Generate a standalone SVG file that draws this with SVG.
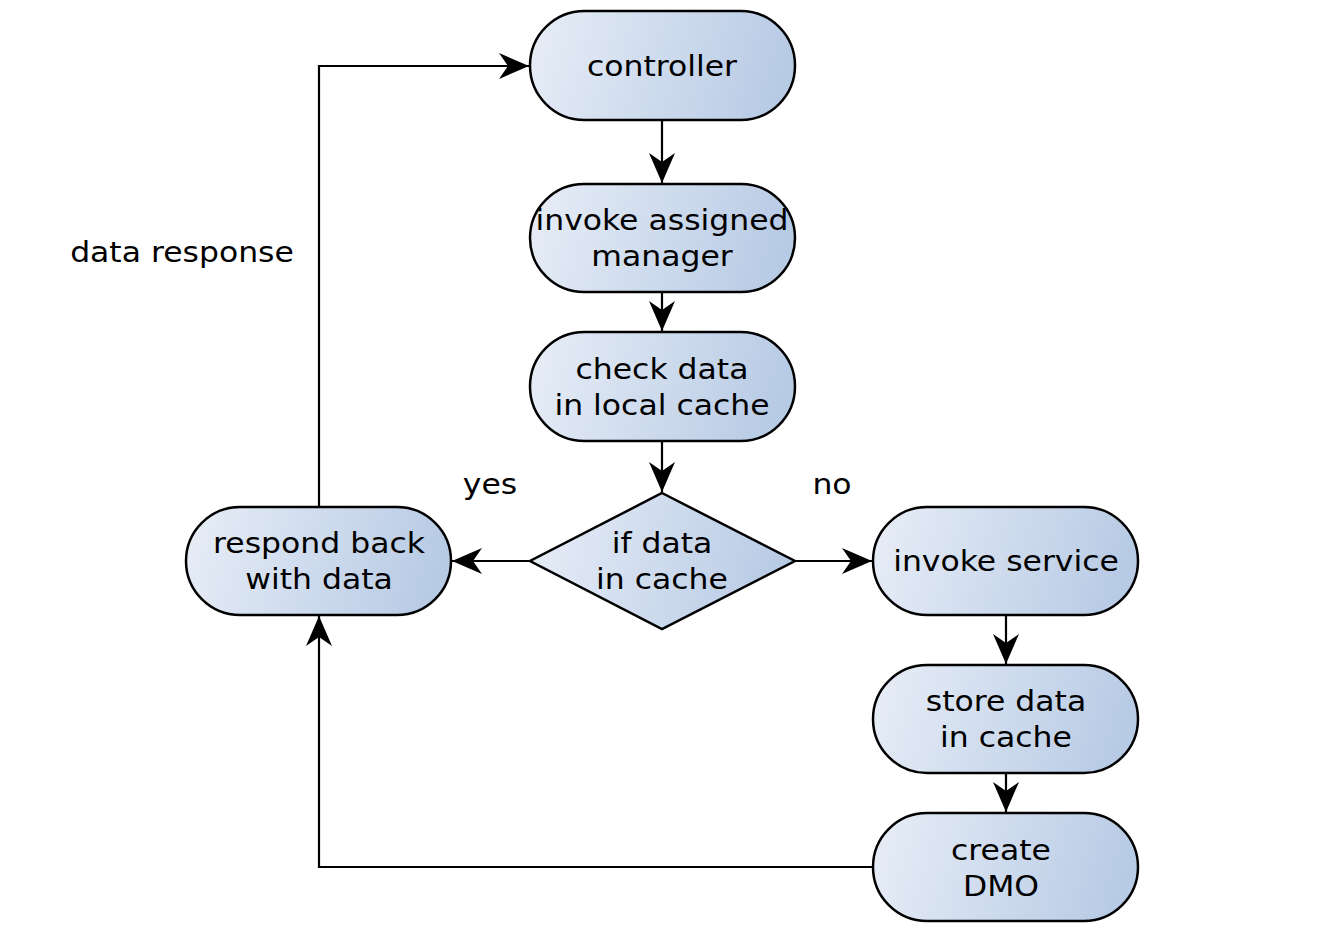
<svg xmlns="http://www.w3.org/2000/svg" width="1325" height="950" viewBox="0 0 1325 950">
<style>
.node{fill:url(#g);stroke:#000;stroke-width:2.5}
.t{font-family:"DejaVu Sans",sans-serif;font-size:29px;fill:#000;text-anchor:middle}
.c{fill:none;stroke:#000;stroke-width:2.2}
</style>
<defs>
<linearGradient id="g" x1="0" y1="0" x2="1" y2="0.12">
<stop offset="0" stop-color="#e8eef7"/>
<stop offset="1" stop-color="#b8cbe5"/>
</linearGradient>
<marker id="a" markerUnits="userSpaceOnUse" markerWidth="34" markerHeight="30" viewBox="-32 -15 34 30" refX="0" refY="0" orient="auto">
<path d="M0,0 L-30,-13 L-21,0 L-30,13 Z" fill="#000"/>
</marker>
</defs>
<rect width="1325" height="950" fill="#fff"/>
<g id="connectors">
<path class="c" d="M662,120 V183" marker-end="url(#a)"/>
<path class="c" d="M662,292 V331" marker-end="url(#a)"/>
<path class="c" d="M662,441 V492" marker-end="url(#a)"/>
<path class="c" d="M530,561 H452" marker-end="url(#a)"/>
<path class="c" d="M795,561 H872" marker-end="url(#a)"/>
<path class="c" d="M1006,615 V664" marker-end="url(#a)"/>
<path class="c" d="M1006,773 V812" marker-end="url(#a)"/>
<path class="c" d="M873,867 H319 V616" marker-end="url(#a)"/>
<path class="c" d="M319,507 V66 H529" marker-end="url(#a)"/>
<text class="t" transform="translate(490 0) scale(1.085 1)" y="494">yes</text>
<text class="t" transform="translate(832 0) scale(1.085 1)" y="494">no</text>
<text class="t" transform="translate(182 0) scale(1.085 1)" y="262">data response</text>
</g>
<g id="controller">
<rect class="node" x="530" y="11" width="265" height="109" rx="54.5"/>
<text class="t" transform="translate(662 0) scale(1.085 1)" y="76">controller</text>
</g>
<g id="invoke-manager">
<rect class="node" x="530" y="184" width="265" height="108" rx="54"/>
<text class="t" transform="translate(662 0) scale(1.085 1)" y="230">invoke assigned</text>
<text class="t" transform="translate(662 0) scale(1.085 1)" y="266">manager</text>
</g>
<g id="check-cache">
<rect class="node" x="530" y="332" width="265" height="109" rx="54.5"/>
<text class="t" transform="translate(662 0) scale(1.085 1)" y="379">check data</text>
<text class="t" transform="translate(662 0) scale(1.085 1)" y="415">in local cache</text>
</g>
<g id="if-cache">
<polygon class="node" points="662,493 795,561 662,629 530,561"/>
<text class="t" transform="translate(662 0) scale(1.085 1)" y="553">if data</text>
<text class="t" transform="translate(662 0) scale(1.085 1)" y="589">in cache</text>
</g>
<g id="respond">
<rect class="node" x="186" y="507" width="265" height="108" rx="54"/>
<text class="t" transform="translate(319 0) scale(1.085 1)" y="553">respond back</text>
<text class="t" transform="translate(319 0) scale(1.085 1)" y="589">with data</text>
</g>
<g id="invoke-service">
<rect class="node" x="873" y="507" width="265" height="108" rx="54"/>
<text class="t" transform="translate(1006 0) scale(1.085 1)" y="571">invoke service</text>
</g>
<g id="store-cache">
<rect class="node" x="873" y="665" width="265" height="108" rx="54"/>
<text class="t" transform="translate(1006 0) scale(1.085 1)" y="711">store data</text>
<text class="t" transform="translate(1006 0) scale(1.085 1)" y="747">in cache</text>
</g>
<g id="create-dmo">
<rect class="node" x="873" y="813" width="265" height="108" rx="54"/>
<text class="t" transform="translate(1001 0) scale(1.085 1)" y="860">create</text>
<text class="t" transform="translate(1001 0) scale(1.085 1)" y="896">DMO</text>
</g>
</svg>
